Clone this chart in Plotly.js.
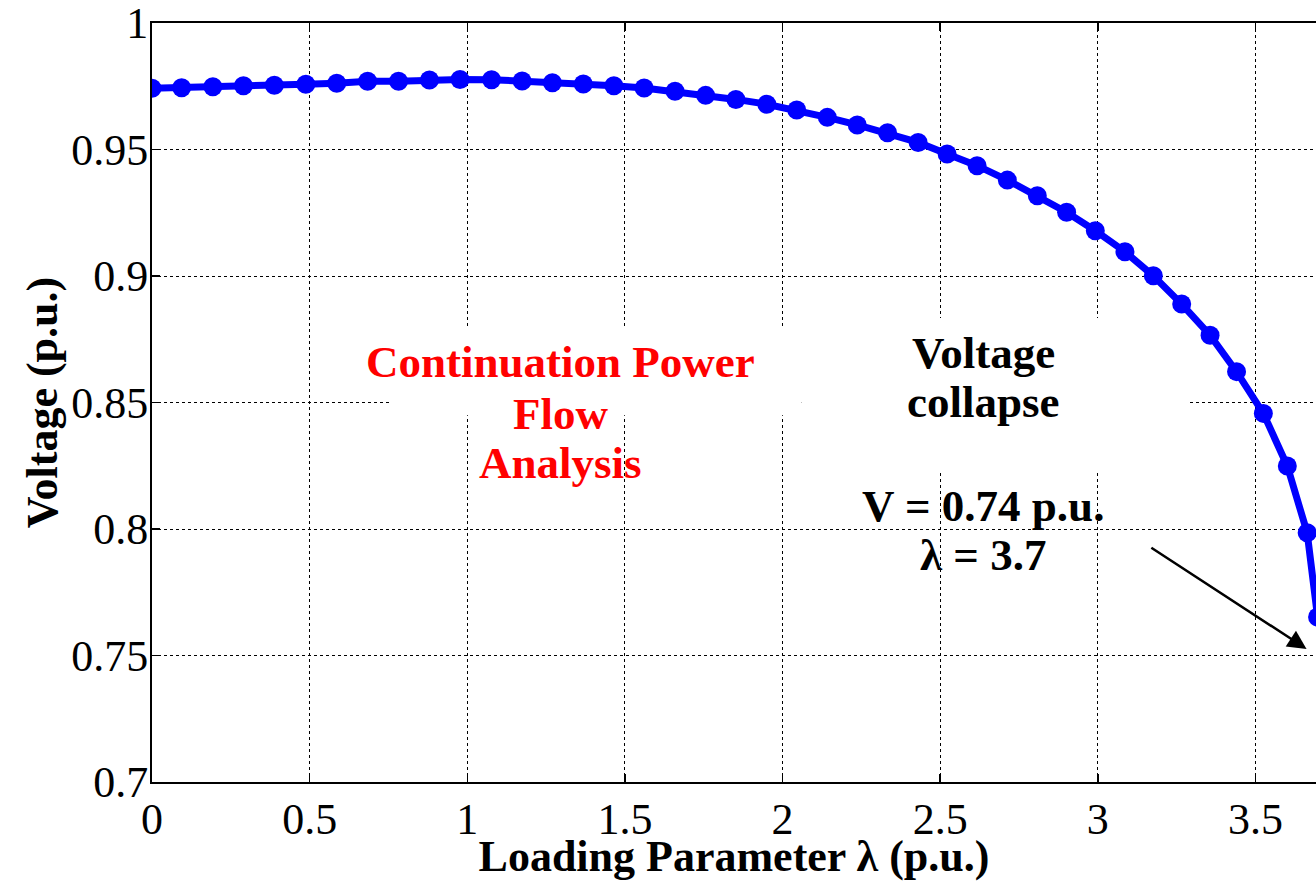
<!DOCTYPE html>
<html>
<head>
<meta charset="utf-8">
<script src="https://cdn.plot.ly/plotly-3.0.1.min.js"></script>
<style>html,body{margin:0;padding:0;background:#fff;}#chart{width:1316px;height:881px;}</style>
</head>
<body>
<div id="chart"></div>
<script>
// Loading parameter lambda (p.u.)
const lambda = [0, 0.094, 0.193, 0.29, 0.388, 0.488, 0.586, 0.684, 0.782, 0.88, 0.977,
  1.077, 1.174, 1.27, 1.368, 1.465, 1.561, 1.659, 1.756, 1.852, 1.95,
  2.045, 2.142, 2.237, 2.333, 2.43, 2.522, 2.617, 2.713, 2.808, 2.901,
  2.992, 3.086, 3.176, 3.266, 3.356, 3.44, 3.525, 3.601, 3.664, 3.697];
// Voltage (p.u.)
const voltage = [0.9742, 0.9744, 0.9748, 0.9752, 0.9754, 0.9758, 0.9762, 0.9770, 0.9770, 0.9775, 0.9777,
  0.9776, 0.9771, 0.9764, 0.9759, 0.9752, 0.9743, 0.9730, 0.9714, 0.9698, 0.9679,
  0.9656, 0.9627, 0.9597, 0.9566, 0.9528, 0.9482, 0.9436, 0.9379, 0.9317, 0.9252,
  0.9179, 0.9096, 0.9001, 0.8889, 0.8766, 0.8622, 0.8457, 0.8249, 0.7985, 0.7652];
const xTicks = [0, 0.5, 1, 1.5, 2, 2.5, 3, 3.5];
const xTickText = ['0', '0.5', '1', '1.5', '2', '2.5', '3', '3.5'];
const yTicks = [0.7, 0.75, 0.8, 0.85, 0.9, 0.95, 1];
const yTickText = ['0.7', '0.75', '0.8', '0.85', '0.9', '0.95', '1'];

const serif = '"Liberation Serif", "Times New Roman", Times, serif';

const trace = {
  x: lambda, y: voltage, type: 'scatter', mode: 'lines+markers',
  line: {color: '#0000ff', width: 7},
  marker: {color: '#0000ff', size: 19},
  showlegend: false, cliponaxis: true
};

const axisCommon = {
  showline: true, linecolor: '#000', linewidth: 2,
  ticks: 'inside', ticklen: 8, tickwidth: 1.5, tickcolor: '#000',
  showgrid: true, gridcolor: '#000', gridwidth: 1, griddash: 'dot',
  zeroline: false, ticklabeloverflow: 'allow',
  tickfont: {family: serif, size: 44, color: '#000'}
};

const layout = {
  width: 1316, height: 881,
  margin: {l: 152, r: 0, t: 23, b: 99},
  paper_bgcolor: '#fff', plot_bgcolor: '#fff',
  xaxis: Object.assign({}, axisCommon, {
    range: [0, 3.692], tickvals: xTicks, ticktext: xTickText, mirror: 'ticks',
    ticklabelstandoff: -3,
    title: {text: 'Loading Parameter λ (p.u.)', font: {family: serif, size: 44, color: '#000', weight: 'bold'}, standoff: 2}
  }),
  yaxis: Object.assign({}, axisCommon, {
    range: [0.7, 1.0], tickvals: yTicks, ticktext: yTickText, mirror: false,
    ticklabelstandoff: -7,
    title: {text: 'Voltage (p.u.)', font: {family: serif, size: 44, color: '#000', weight: 'bold'}, standoff: 0}
  }),
  shapes: [
    {type: 'rect', layer: 'between', xref: 'x', yref: 'y', x0: 0.755, x1: 2.06, y0: 0.845, y1: 0.8794,
      fillcolor: '#fff', line: {width: 0}},
    {type: 'rect', layer: 'between', xref: 'x', yref: 'y', x0: 2.06, x1: 3.286, y0: 0.8233, y1: 0.8834,
      fillcolor: '#fff', line: {width: 0}}
  ],
  annotations: [
    {x: 1.297, y: 0.866, xref: 'x', yref: 'y', text: 'Continuation Power', showarrow: false,
      font: {family: serif, size: 45, color: '#ff0000', weight: 'bold'}},
    {x: 1.297, y: 0.8455, xref: 'x', yref: 'y', text: 'Flow', showarrow: false,
      font: {family: serif, size: 45, color: '#ff0000', weight: 'bold'}},
    {x: 1.297, y: 0.8261, xref: 'x', yref: 'y', text: 'Analysis', showarrow: false,
      font: {family: serif, size: 45, color: '#ff0000', weight: 'bold'}},
    {x: 2.637, y: 0.8696, xref: 'x', yref: 'y', text: 'Voltage', showarrow: false,
      font: {family: serif, size: 45, color: '#000', weight: 'bold'}},
    {x: 2.637, y: 0.8502, xref: 'x', yref: 'y', text: 'collapse', showarrow: false,
      font: {family: serif, size: 45, color: '#000', weight: 'bold'}},
    {x: 2.637, y: 0.8091, xref: 'x', yref: 'y', text: 'V = 0.74 p.u.', showarrow: false,
      font: {family: serif, size: 45, color: '#000', weight: 'bold'}},
    {x: 2.637, y: 0.7897, xref: 'x', yref: 'y', text: 'λ = 3.7', showarrow: false,
      font: {family: serif, size: 45, color: '#000', weight: 'bold'}},
    {x: 3.662, y: 0.7526, ax: 3.165, ay: 0.793, xref: 'x', yref: 'y', axref: 'x', ayref: 'y',
      text: '', showarrow: true, arrowhead: 2, arrowsize: 1.5, arrowwidth: 2.5, arrowcolor: '#000'}
  ]
};

Plotly.newPlot('chart', [trace], layout, {displayModeBar: false, staticPlot: true});
</script>
</body>
</html>
